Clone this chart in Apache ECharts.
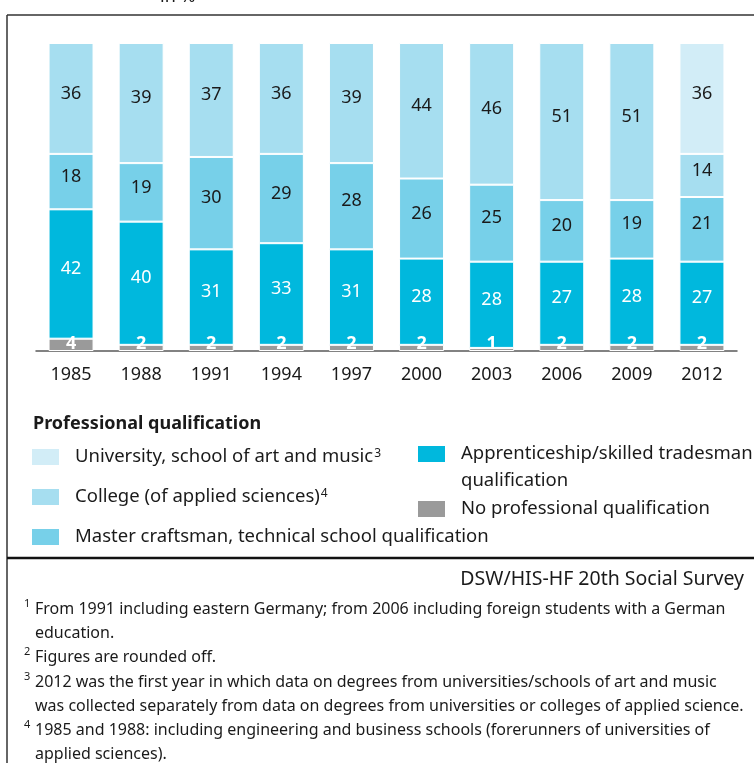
<!DOCTYPE html>
<html>
<head>
<meta charset="utf-8">
<script src="https://cdn.jsdelivr.net/npm/echarts@6/dist/echarts.min.js"></script>
<style>
  html, body { margin: 0; padding: 0; background: #fff; }
  #chart { width: 754px; height: 763px; }
</style>
</head>
<body>
<div id="chart"></div>
<script>
// Survey years (category axis)
const years = ['1985', '1988', '1991', '1994', '1997', '2000', '2003', '2006', '2009', '2012'];

// Share of students by father's professional qualification, in %
const noQualification   = [4, 2, 2, 2, 2, 2, 1, 2, 2, 2];
const apprenticeship    = [42, 40, 31, 33, 31, 28, 28, 27, 28, 27];
const masterCraftsman   = [18, 19, 30, 29, 28, 26, 25, 20, 19, 21];
const college           = [36, 39, 37, 36, 39, 44, 46, 51, 51, 14];
const university        = [null, null, null, null, null, null, null, null, null, 36];

const names = {
  uni: 'University, school of art and music',
  col: 'College (of applied sciences)',
  mas: 'Master craftsman, technical school qualification',
  app: 'Apprenticeship/skilled tradesman qualification',
  non: 'No professional qualification'
};

const FONT = '"Noto Sans", sans-serif';
const INK = '#1a1a1a';
const colors = {
  uni: '#d2edf7',
  col: '#a6def0',
  mas: '#77d0e9',
  app: '#00b8dd',
  non: '#9a9a9a'
};

function barSeries(key, data, labelColor, bold) {
  return {
    name: names[key],
    type: 'bar',
    stack: 'total',
    barWidth: 45,
    data: data,
    itemStyle: { color: colors[key], borderColor: '#ffffff', borderWidth: 1 },
    label: {
      show: true,
      position: bold ? 'insideBottom' : 'inside',
      offset: bold ? [0, 3] : [0, -5],
      distance: 1,
      color: labelColor,
      fontFamily: FONT,
      fontSize: 18,
      fontWeight: bold ? 'bold' : 'normal',
      formatter: p => (p.value == null ? '' : String(p.value))
    },
    emphasis: { disabled: true }
  };
}

const chart = echarts.init(document.getElementById('chart'), null, { renderer: 'canvas' });

const legendText = {
  fontFamily: FONT,
  fontSize: 18.5,
  color: INK,
  lineHeight: 18,
  padding: [0, 0, 0, 10],
  rich: {
    sup: { fontFamily: FONT, fontSize: 12, verticalAlign: 'top', lineHeight: 18, color: INK, padding: [0, 0, 8, 1] }
  }
};

chart.setOption({
  animation: false,
  backgroundColor: '#ffffff',
  grid: { left: 36, right: 17, top: 43, bottom: 412, containLabel: false },
  xAxis: {
    type: 'category',
    data: years,
    axisLine: { lineStyle: { color: '#5a5a5a', width: 1.5 } },
    axisTick: { show: false },
    axisLabel: { color: INK, fontFamily: FONT, fontSize: 18, margin: 15 }
  },
  yAxis: { type: 'value', min: 0, max: 100, show: false },
  title: {
    text: 'Professional qualification',
    left: 28,
    top: 410,
    textStyle: { fontFamily: FONT, fontSize: 18, fontWeight: 'bold', color: INK }
  },
  legend: [
    {
      data: [names.uni, names.col, names.mas],
      orient: 'vertical',
      left: 25,
      top: 442,
      itemWidth: 29,
      itemHeight: 18,
      itemGap: 19,
      icon: 'rect',
      selectedMode: false,
      formatter: n => n === names.uni ? n + '{sup|3}' : (n === names.col ? n + '{sup|4}' : n),
      textStyle: legendText
    },
    {
      // two-line entry: an empty spacer line above keeps the first line level with the swatch
      data: [names.app],
      left: 411,
      top: 413,
      itemWidth: 29,
      itemHeight: 18,
      icon: 'rect',
      selectedMode: false,
      formatter: () => '{pad| }\n{a|Apprenticeship/skilled tradesman}\n{b|qualification}',
      textStyle: {
        fontFamily: FONT, fontSize: 18.5, color: INK, padding: [0, 0, 0, 10],
        rich: {
          pad: { fontFamily: FONT, fontSize: 18.5, lineHeight: 35 },
          a: { fontFamily: FONT, fontSize: 18.5, lineHeight: 18, color: INK },
          b: { fontFamily: FONT, fontSize: 18.5, lineHeight: 35, color: INK }
        }
      }
    },
    {
      data: [names.non],
      left: 411,
      top: 494,
      itemWidth: 29,
      itemHeight: 18,
      icon: 'rect',
      selectedMode: false,
      textStyle: legendText
    }
  ],
  series: [
    barSeries('non', noQualification, '#ffffff', true),
    barSeries('app', apprenticeship, '#ffffff', false),
    barSeries('mas', masterCraftsman, INK, false),
    barSeries('col', college, INK, false),
    barSeries('uni', university, INK, false)
  ],
  graphic: [
    // unit note, partly above the frame
    { type: 'text', left: 160, top: -12, style: { text: 'in %', fontFamily: FONT, fontSize: 18, fill: INK } },
    // frame
    { type: 'line', shape: { x1: 7, y1: 15, x2: 754, y2: 15 }, style: { stroke: '#333333', lineWidth: 1.5 } },
    { type: 'line', shape: { x1: 7, y1: 15, x2: 7, y2: 763 }, style: { stroke: '#333333', lineWidth: 1.5 } },
    { type: 'line', shape: { x1: 7, y1: 558, x2: 754, y2: 558 }, style: { stroke: '#111111', lineWidth: 2.5 } },
    // source
    { type: 'text', right: 10, top: 569, style: { text: 'DSW/HIS-HF 20th Social Survey', fontFamily: FONT, fontSize: 19.5, fill: INK } },
    // footnotes
    { type: 'text', x: 24, y: 598, style: { text: '1', fontFamily: FONT, fontSize: 11, fill: INK } },
    { type: 'text', x: 35, y: 597, style: { text: 'From 1991 including eastern Germany; from 2006 including foreign students with a German\neducation.', fontFamily: FONT, fontSize: 16, lineHeight: 24, fill: INK } },
    { type: 'text', x: 24, y: 646, style: { text: '2', fontFamily: FONT, fontSize: 11, fill: INK } },
    { type: 'text', x: 35, y: 645, style: { text: 'Figures are rounded off.', fontFamily: FONT, fontSize: 16, lineHeight: 24, fill: INK } },
    { type: 'text', x: 24, y: 671, style: { text: '3', fontFamily: FONT, fontSize: 11, fill: INK } },
    { type: 'text', x: 35, y: 670, style: { text: '2012 was the first year in which data on degrees from universities/schools of art and music\nwas collected separately from data on degrees from universities or colleges of applied science.', fontFamily: FONT, fontSize: 16, lineHeight: 24, fill: INK } },
    { type: 'text', x: 24, y: 719, style: { text: '4', fontFamily: FONT, fontSize: 11, fill: INK } },
    { type: 'text', x: 35, y: 718, style: { text: '1985 and 1988: including engineering and business schools (forerunners of universities of\napplied sciences).', fontFamily: FONT, fontSize: 16, lineHeight: 24, fill: INK } }
  ]
});
</script>
</body>
</html>
